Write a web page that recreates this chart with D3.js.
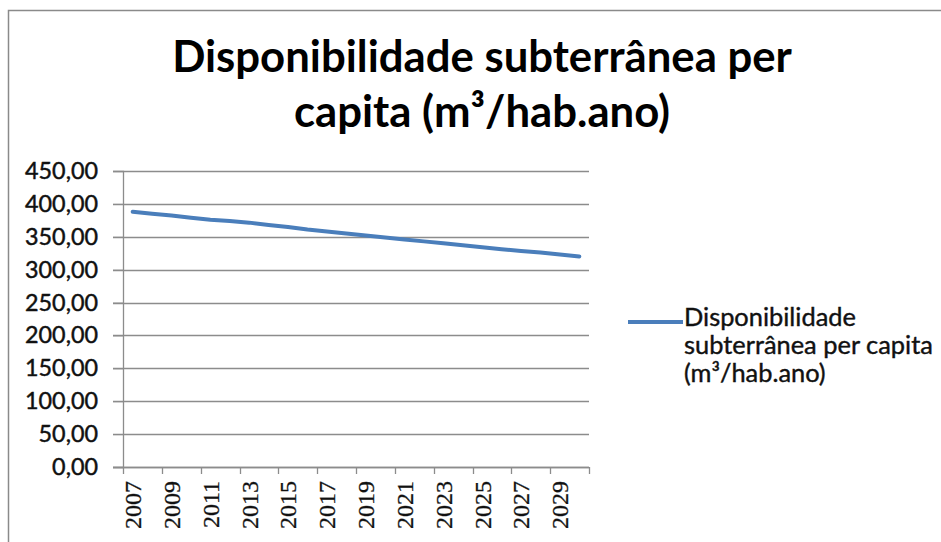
<!DOCTYPE html>
<html>
<head>
<meta charset="utf-8">
<script src="https://cdn.jsdelivr.net/npm/d3@7"></script>
<style>
    body { margin: 0; background: #fff; }
    svg { display: block; }
</style>
</head>
<body>
<script>
"use strict";
(function(){
    // categories (years) and the series
    const years = ["2007", "2008", "2009", "2010", "2011", "2012", "2013", "2014",
                   "2015", "2016", "2017", "2018", "2019", "2020", "2021", "2022",
                   "2023", "2024", "2025", "2026", "2027", "2028", "2029", "2030"];
    const values = [388, 385, 382.5, 379, 376, 374, 371.5, 368,
                    365, 361, 358, 355, 352, 349, 346, 343,
                    340, 337, 334, 331, 328.5, 326, 323, 320];
    const yTicks = [0, 50, 100, 150, 200, 250, 300, 350, 400, 450];
    const xLabels = ["2007", "2009", "2011", "2013", "2015", "2017",
                     "2019", "2021", "2023", "2025", "2027", "2029"];
    const titleLines = ["Disponibilidade subterrânea per", "capita (m³/hab.ano)"];
    const legendLines = ["Disponibilidade", "subterrânea per capita", "(m³/hab.ano)"];

    const measurements = {
        width: 941,
        height: 542,
        plotLeft: 123,
        plotRight: 589,
        plotTop: 171,
        plotBottom: 467
    }

    const lineColor = "#4a7ebb";
    const gridColor = "#8c8c8c";
    const sans = "Lato, 'Open Sans', sans-serif";

    const ptBR = d3.formatLocale({ decimal: ",", thousands: ".", grouping: [3], currency: ["R$", ""] });
    const fmt = ptBR.format(".2f");

    const svg = d3.select("body").append("svg")
        .attr("width", measurements.width)
        .attr("height", measurements.height);

    // chart frame (right and bottom edges fall outside the picture)
    svg.append("rect")
        .attr("x", 8.5)
        .attr("y", 10.5)
        .attr("width", 1000)
        .attr("height", 1000)
        .attr("fill", "none")
        .attr("stroke", "#8a8a8a")
        .attr("stroke-width", 1.5);

    // title, scaled to the width it has in the picture
    const title = svg.append("g")
        .attr("font-family", sans)
        .attr("font-weight", "bold")
        .attr("fill", "#000");
    const t1 = title.append("text")
        .attr("x", 482)
        .attr("y", 72)
        .attr("text-anchor", "middle")
        .style("font-size", "40px")
        .text(titleLines[0]);
    const titleSize = 40 * 620 / t1.node().getComputedTextLength();
    t1.style("font-size", titleSize + "px");
    title.append("text")
        .attr("x", 482)
        .attr("y", 127)
        .attr("text-anchor", "middle")
        .style("font-size", titleSize + "px")
        .text(titleLines[1]);

    // scales
    const x = d3.scaleBand()
        .domain(years)
        .range([measurements.plotLeft, measurements.plotRight])
        .padding(0);
    const y = d3.scaleLinear()
        .domain([0, 450])
        .range([measurements.plotBottom, measurements.plotTop]);

    // horizontal gridlines
    svg.append("g")
        .selectAll("line")
        .data(yTicks)
        .enter()
        .append("line")
        .attr("x1", measurements.plotLeft - 10)
        .attr("x2", measurements.plotRight)
        .attr("y1", d => Math.round(y(d)) + 0.5)
        .attr("y2", d => Math.round(y(d)) + 0.5)
        .attr("stroke", gridColor)
        .attr("stroke-width", 1.3);

    // y axis
    const yAxis = d3.axisLeft(y)
        .tickValues(yTicks)
        .tickFormat(fmt)
        .tickSize(10)
        .tickPadding(15);
    const gy = svg.append("g")
        .attr("transform", `translate(${measurements.plotLeft},0)`)
        .call(yAxis);
    gy.select(".domain").attr("stroke", gridColor).attr("stroke-width", 1.3);
    gy.selectAll(".tick line").attr("stroke", gridColor);
    const yText = gy.selectAll(".tick text")
        .attr("fill", "#111")
        .attr("stroke", "#111")
        .attr("stroke-width", 0.45)
        .style("font-family", sans)
        .style("font-size", "20px");
    const yLabelSize = 20 * 73 / yText.filter(d => d === 450).node().getComputedTextLength();
    yText.style("font-size", yLabelSize + "px");

    // x axis: labels centred on every other category
    const xAxis = d3.axisBottom(x)
        .tickValues(xLabels)
        .tickSize(0)
        .tickPadding(0);
    const gx = svg.append("g")
        .attr("transform", `translate(0,${measurements.plotBottom})`)
        .call(xAxis);
    gx.select(".domain").remove();
    gx.selectAll(".tick text")
        .attr("fill", "#111")
        .attr("stroke", "#111")
        .attr("stroke-width", 0.3)
        .attr("transform", "rotate(-90)")
        .attr("x", -14)
        .attr("y", 0)
        .attr("dy", "0.35em")
        .attr("text-anchor", "end")
        .style("font-family", "'Liberation Serif', 'DejaVu Serif', serif")
        .style("font-size", "24px");

    // x axis line and tick marks between category pairs
    svg.append("line")
        .attr("x1", measurements.plotLeft - 10)
        .attr("x2", measurements.plotRight)
        .attr("y1", measurements.plotBottom + 0.5)
        .attr("y2", measurements.plotBottom + 0.5)
        .attr("stroke", gridColor)
        .attr("stroke-width", 1.3);
    const tickPos = xLabels.map(d => x(d)).concat([x.range()[1]]);
    svg.append("g")
        .selectAll("line")
        .data(tickPos)
        .enter()
        .append("line")
        .attr("x1", d => Math.round(d) + 0.5)
        .attr("x2", d => Math.round(d) + 0.5)
        .attr("y1", measurements.plotBottom)
        .attr("y2", measurements.plotBottom + 7)
        .attr("stroke", gridColor)
        .attr("stroke-width", 1.3);

    // the series
    const line = d3.line()
        .x((d, i) => x(years[i]) + x.bandwidth() / 2)
        .y(d => y(d));
    svg.append("path")
        .datum(values)
        .attr("d", line)
        .attr("fill", "none")
        .attr("stroke", lineColor)
        .attr("stroke-width", 4)
        .attr("stroke-linejoin", "round")
        .attr("stroke-linecap", "round");

    // legend
    const legend = svg.append("g")
        .attr("transform", "translate(628,322)");
    legend.append("line")
        .attr("x1", 0)
        .attr("x2", 55)
        .attr("y1", 0)
        .attr("y2", 0)
        .attr("stroke", lineColor)
        .attr("stroke-width", 4);
    const legendText = legend.selectAll("text")
        .data(legendLines)
        .enter()
        .append("text")
        .attr("x", 56)
        .attr("y", (d, i) => 4 + i * 28)
        .attr("fill", "#111")
        .attr("stroke", "#111")
        .attr("stroke-width", 0.4)
        .style("font-family", sans)
        .style("font-size", "20px")
        .text(d => d);
    const legendSize = 20 * 249 / legendText.filter((d, i) => i === 1).node().getComputedTextLength();
    legendText.style("font-size", legendSize + "px");
})()
</script>
</body>
</html>
